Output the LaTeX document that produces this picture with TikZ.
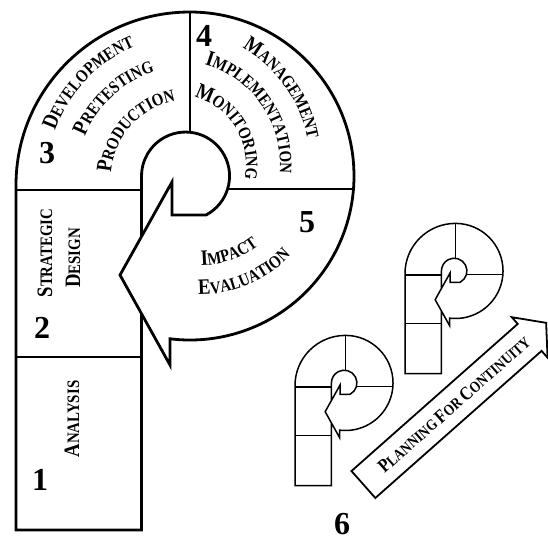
\documentclass[tikz,border=0pt]{standalone}
\usepackage{fontspec}
\setmainfont{Liberation Serif}
\newfontfamily\scfam{Liberation Serif}[FakeStretch=0.85]
\usetikzlibrary{decorations.text}
\newcommand\capf{\scfam\fontsize{22}{26}\selectfont\bfseries}
\newcommand\smlf{\scfam\fontsize{17.5}{21}\selectfont\bfseries}
\newcommand\capg{\scfam\fontsize{19}{23}\selectfont\bfseries}
\newcommand\smlg{\scfam\fontsize{15.5}{18}\selectfont\bfseries}
\newcommand\numf{\fontsize{32}{36}\selectfont\bfseries}
% the P-shaped spiral arrow, in pixel coordinates
\newcommand\drawP[2]{%
  \draw[divider, line width=#2] (16,190) -- (141.5,190);
  \draw[divider, line width=#2] (16,357) -- (141.5,357);
  \draw[divider, line width=#2] (190,12) -- (190,132.2);
  \draw[divider, line width=#2] (227.6,189) -- (353.5,189);
  \draw[outline, line width=#1]
    (141.5,313.7) -- (141.5,530) -- (16,530) -- (16,185)
    arc[start angle=180, end angle=270, x radius=174, y radius=173]
    arc[start angle=270, end angle=457, radius=164]
    -- (170,365) -- (120,275) -- (172,182) -- (172,215) -- (206,215)
    arc[start angle=62.3, end angle=-180, radius=44]
    -- (141.5,236.5);
}
\tikzset{
  outline/.style={line join=miter, line cap=butt},
  divider/.style={line cap=butt},
  num/.style={font=\numf, inner sep=0pt},
  arclabel/.style={decorate, decoration={text along path, text align=center, text={#1}}}
}
\begin{document}
\begin{tikzpicture}[x=1pt, y=-1pt]
\useasboundingbox (0,0) rectangle (548,542);

% big P
\drawP{2.8pt}{2pt}

% section numbers
\node[num] (n3) at (47,153) {3};
\node[num] (n4) at (204,36) {4};
\node[num] (n5) at (307,222) {5};
\node[num] (n2) at (42,328) {2};
\node[num] (n1) at (40,480) {1};
\node[num] (n6) at (342,524) {6};

% section 3 curved labels
\path[arclabel={|\capf|D|\smlf|EVELOPMENT}] (189,178) ++(-181.5:142)
  arc[start angle=-181.5, end angle=-91.5, radius=142];
\path[arclabel={|\capf|P|\smlf|RETESTING}] (189,178) ++(-178:112)
  arc[start angle=-178, end angle=-88, radius=112];
\path[arclabel={|\capf|P|\smlf|RODUCTION}] (189,178) ++(-190:78)
  arc[start angle=-190, end angle=-86, radius=78];

% section 4 curved labels
\path[arclabel={|\capf|M|\smlf|ANAGEMENT}] (175,165) ++(-80:135)
  arc[start angle=-80, end angle=9, radius=135];
\path[arclabel={|\capf|I|\smlf|MPLEMENTATION}] (175,165) ++(-85:105)
  arc[start angle=-85, end angle=16, radius=105];
\path[arclabel={|\capf|M|\smlf|ONITORING}] (175,165) ++(-90:71)
  arc[start angle=-90, end angle=27, radius=71];

% section 5 curved labels
\path[arclabel={|\capf|I|\smlf|MPACT}] (200,170) ++(110.8:95.5)
  arc[start angle=110.8, end angle=30.8, radius=95.5];
\path[arclabel={|\capf|E|\smlf|VALUATION}] (200,170) ++(107:124.5)
  arc[start angle=107, end angle=27, radius=124.5];

% sections 2 and 1
\node[rotate=90, inner sep=0pt] (strat) at (45,253) {\capf S\smlf TRATEGIC};
\node[rotate=90, inner sep=0pt] (design) at (73,258) {\capf D\smlf ESIGN};
\node[rotate=90, inner sep=0pt] (analysis) at (72,419) {\capf A\smlf NALYSIS};

% small P shapes
\begin{scope}[shift={(295,387)}, scale=0.29, shift={(-16,-190)}]
  \drawP{1.5pt}{1.2pt}
\end{scope}
\begin{scope}[shift={(405,275)}, scale=0.29, shift={(-16,-190)}]
  \drawP{1.5pt}{1.2pt}
\end{scope}

% planning arrow
\begin{scope}[shift={(363.4,484.5)}, rotate=41.5]
  \draw[line width=1.8pt, line join=miter] (0,-18) -- (222,-18) -- (222,-27)
     -- (244,0) -- (222,27) -- (222,18) -- (0,18) -- cycle;
  \node[rotate=41.5, inner sep=0pt] (plan) at (121,0)
     {\capg P\smlg LANNING \capg F\smlg OR \capg C\smlg ONTINUITY};
\end{scope}
\end{tikzpicture}
\end{document}
